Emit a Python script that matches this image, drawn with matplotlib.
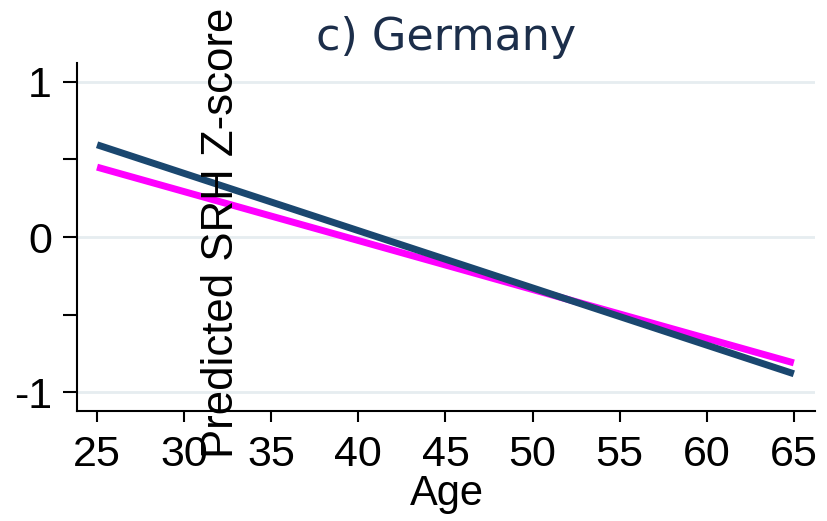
import matplotlib
matplotlib.use("Agg")
import matplotlib.pyplot as plt

# predicted SRH z-score by age, two fitted lines
age = [25, 65]
navy_z = [0.594, -0.88]
magenta_z = [0.45, -0.81]
xticks = [25, 30, 35, 40, 45, 50, 55, 60, 65]
yticks = [-1, 0, 1]
ytick_labels = ['-1', '0', '1']

plt.rcParams['font.family'] = ['Liberation Sans', 'DejaVu Sans']

fig = plt.figure(figsize=(8.28, 5.21), dpi=100)
ax = fig.add_axes([0.093, 0.211, 0.891, 0.668])

for y in yticks:
    ax.axhline(y, color='#e6edf0', lw=2, zorder=0)

ax.plot(age, navy_z, color='#1a476f', lw=5, solid_capstyle='butt', zorder=3)
ax.plot(age, magenta_z, color='#ff00ff', lw=5, solid_capstyle='butt', zorder=2)

ax.set_xlim(23.85, 66.2)
ax.set_ylim(-1.12, 1.12)
ax.set_xticks(xticks)
ax.set_yticks(yticks)
ax.set_yticks([-0.5, 0.5], minor=True)
ax.set_yticklabels(ytick_labels)
ax.tick_params(axis='x', labelsize=31, length=8, width=1.5, pad=9)
ax.tick_params(axis='y', labelsize=31, length=10, width=1.5, pad=8)
ax.tick_params(axis='y', which='minor', length=10, width=1.5)
for s in ['top', 'right']:
    ax.spines[s].set_visible(False)
for s in ['left', 'bottom']:
    ax.spines[s].set_linewidth(1.5)

fig.text(0.539, 0.904, 'c) Germany', ha='center', va='baseline', fontsize=32,
         color='#1c2e4a', family='DejaVu Sans')
fig.text(0.268, 0.553, 'Predicted SRH Z-score', rotation=90, ha='center', va='center', fontsize=31.5)
fig.text(0.540, 0.052, 'Age', ha='center', va='center', fontsize=30)

fig.savefig('out.png', dpi=100)
